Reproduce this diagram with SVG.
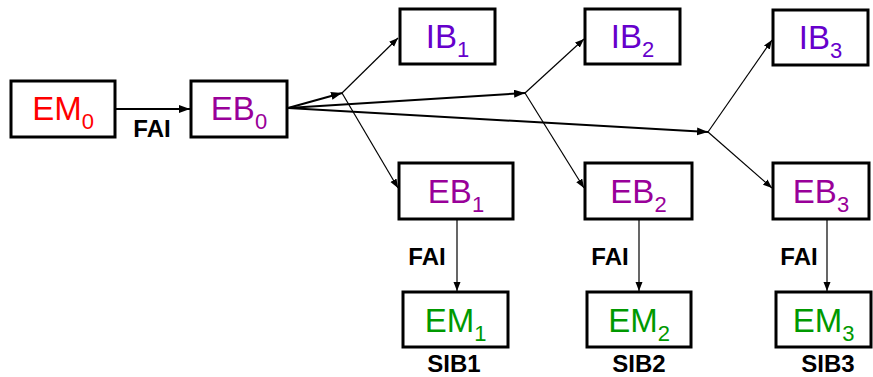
<svg xmlns="http://www.w3.org/2000/svg" width="873" height="377" viewBox="0 0 873 377">
<style>
.box{fill:#fff;stroke:#000;stroke-width:3}
.t{font-family:"Liberation Sans",Arial,sans-serif;font-size:33px;text-anchor:middle}
.s{font-size:22px}
.red{fill:#ff0000}.pur{fill:#990099}.vio{fill:#6600cc}.grn{fill:#009900}
.lbl{font-family:"Liberation Sans",Arial,sans-serif;font-size:24px;font-weight:bold;text-anchor:middle;fill:#000}
.thick{stroke:#000;stroke-width:2;fill:none}
.thin{stroke:#000;stroke-width:1.2;fill:none}
</style>
<defs>
<marker id="ah" markerUnits="userSpaceOnUse" markerWidth="12" markerHeight="10" refX="11" refY="4" orient="auto">
<path d="M0,0 L11,4 L0,8 Z" fill="#000"/>
</marker>
<marker id="as" markerUnits="userSpaceOnUse" markerWidth="10" markerHeight="8" refX="9" refY="3.5" orient="auto">
<path d="M0,0 L9,3.5 L0,7 Z" fill="#000"/>
</marker>
</defs>
<rect width="873" height="377" fill="#fff"/>
<g id="connectors">
<line class="thick" x1="115" y1="109" x2="190" y2="109" marker-end="url(#ah)"/>
<line class="thick" x1="288" y1="108" x2="342" y2="93" marker-end="url(#ah)"/>
<line class="thick" x1="288" y1="108" x2="525" y2="93" marker-end="url(#ah)"/>
<line class="thick" x1="288" y1="108" x2="708" y2="132" marker-end="url(#ah)"/>
<line class="thin" x1="342" y1="93" x2="398" y2="38" marker-end="url(#as)"/>
<line class="thin" x1="342" y1="93" x2="398" y2="188" marker-end="url(#as)"/>
<line class="thin" x1="525" y1="93" x2="584" y2="39" marker-end="url(#as)"/>
<line class="thin" x1="525" y1="93" x2="584" y2="188" marker-end="url(#as)"/>
<line class="thin" x1="708" y1="132" x2="772" y2="40" marker-end="url(#as)"/>
<line class="thin" x1="708" y1="132" x2="772" y2="188" marker-end="url(#as)"/>
<line class="thin" x1="457" y1="219" x2="457" y2="291" marker-end="url(#as)"/>
<line class="thin" x1="639" y1="219" x2="639" y2="291" marker-end="url(#as)"/>
<line class="thin" x1="827" y1="219" x2="827" y2="291" marker-end="url(#as)"/>
<text class="lbl" x="152" y="137">FAI</text>
<text class="lbl" x="427" y="265">FAI</text>
<text class="lbl" x="610" y="265">FAI</text>
<text class="lbl" x="799" y="265">FAI</text>
</g>
<g id="EM0"><rect class="box" x="11" y="81" width="104" height="56"/><text class="t red" x="63" y="120">EM<tspan class="s" dy="9">0</tspan></text></g>
<g id="EB0"><rect class="box" x="191" y="81" width="96" height="56"/><text class="t pur" x="239" y="120">EB<tspan class="s" dy="9">0</tspan></text></g>
<g id="IB1"><rect class="box" x="400" y="9" width="95" height="55"/><text class="t vio" x="447.5" y="48">IB<tspan class="s" dy="9">1</tspan></text></g>
<g id="IB2"><rect class="box" x="585" y="9" width="95" height="55"/><text class="t vio" x="632.5" y="48">IB<tspan class="s" dy="9">2</tspan></text></g>
<g id="IB3"><rect class="box" x="773" y="10" width="95" height="55"/><text class="t vio" x="820.5" y="49">IB<tspan class="s" dy="9">3</tspan></text></g>
<g id="EB1"><rect class="box" x="399" y="163" width="114" height="56"/><text class="t pur" x="456" y="203">EB<tspan class="s" dy="9">1</tspan></text></g>
<g id="EB2"><rect class="box" x="585" y="163" width="107" height="56"/><text class="t pur" x="638.5" y="203">EB<tspan class="s" dy="9">2</tspan></text></g>
<g id="EB3"><rect class="box" x="773" y="163" width="96" height="56"/><text class="t pur" x="821" y="203">EB<tspan class="s" dy="9">3</tspan></text></g>
<g id="EM1"><rect class="box" x="403" y="292" width="105" height="55"/><text class="t grn" x="455.5" y="332">EM<tspan class="s" dy="9">1</tspan></text><text class="lbl" x="454" y="372">SIB1</text></g>
<g id="EM2"><rect class="box" x="587" y="292" width="104" height="55"/><text class="t grn" x="639" y="332">EM<tspan class="s" dy="9">2</tspan></text><text class="lbl" x="639" y="372">SIB2</text></g>
<g id="EM3"><rect class="box" x="776" y="292" width="95" height="55"/><text class="t grn" x="823.5" y="332">EM<tspan class="s" dy="9">3</tspan></text><text class="lbl" x="828" y="372">SIB3</text></g>
</svg>
